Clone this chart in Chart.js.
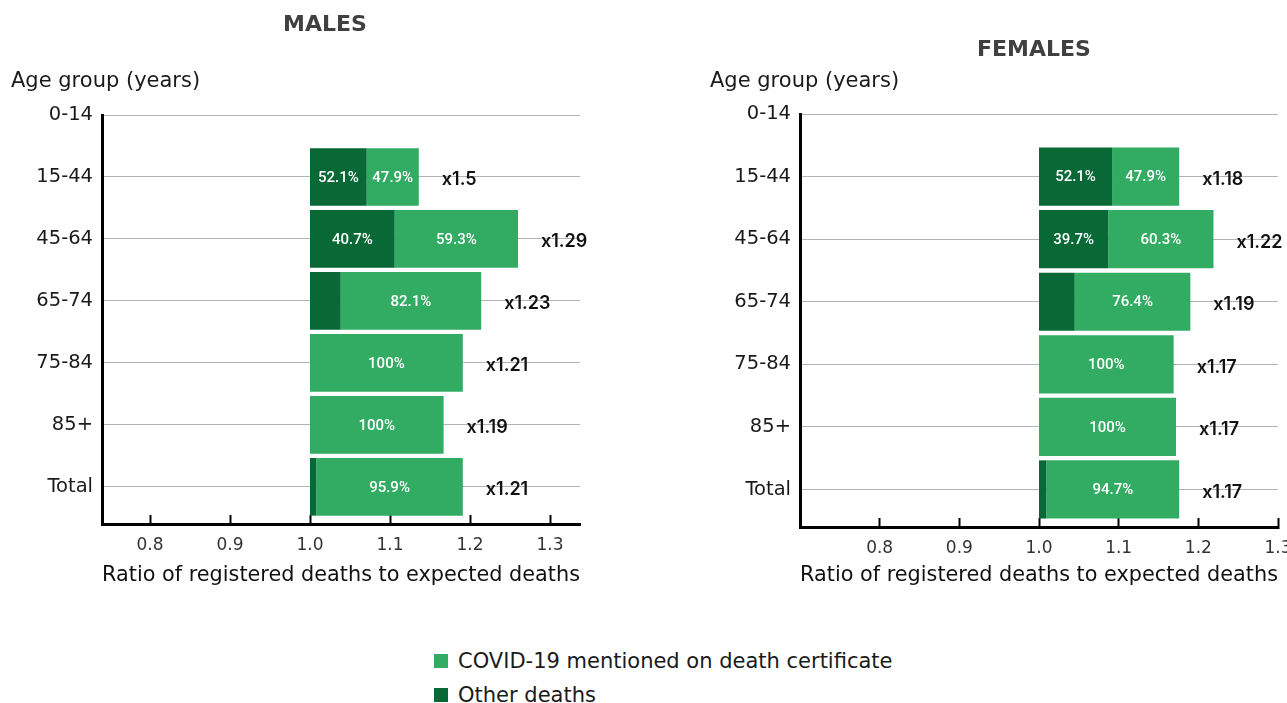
<!DOCTYPE html>
<html>
<head>
<meta charset="utf-8">
<script src="https://cdn.jsdelivr.net/npm/chart.js@4"></script>
<style>
  body { margin: 0; background: #fff; font-family: "DejaVu Sans", sans-serif; }
  .wrap { position: relative; width: 1287px; height: 703px; overflow: hidden; }
  #males { position: absolute; left: 0; top: 0; }
  #females { position: absolute; left: 690px; top: 0; }
  .legend { position: absolute; left: 434px; top: 650px; font-size: 21px; color: #1a1a1a; }
  .legend div { display: flex; align-items: center; height: 22px; margin-bottom: 12px; white-space: nowrap; }
  .legend .box { width: 14px; height: 14px; margin-right: 10px; }
</style>
</head>
<body>
<div class="wrap">
  <canvas id="males" width="600" height="610"></canvas>
  <canvas id="females" width="597" height="610"></canvas>
  <div class="legend" id="legend"></div>
</div>
<script>
const ageGroups = ['0-14', '15-44', '45-64', '65-74', '75-84', '85+', 'Total'];
const seriesNames = ['COVID-19 mentioned on death certificate', 'Other deaths'];

// ratio of registered to expected deaths (bar end), and share of excess with COVID mentioned
const malesRatio = [null, 1.136, 1.26, 1.214, 1.191, 1.167, 1.191];
const malesCovidShare = [null, 47.9, 59.3, 82.1, 100, 100, 95.9];
const malesOtherLabels = ['', '52.1%', '40.7%', '', '', '', ''];
const malesRatioLabels = ['', 'x1.5', 'x1.29', 'x1.23', 'x1.21', 'x1.19', 'x1.21'];

const femalesRatio = [null, 1.176, 1.219, 1.19, 1.169, 1.172, 1.176];
const femalesCovidShare = [null, 47.9, 60.3, 76.4, 100, 100, 94.7];
const femalesOtherLabels = ['', '52.1%', '39.7%', '', '', '', ''];
const femalesRatioLabels = ['', 'x1.18', 'x1.22', 'x1.19', 'x1.17', 'x1.17', 'x1.17'];

const covidColor = '#32ab63';
const otherColor = '#086937';

Chart.defaults.font.family = '"DejaVu Sans", sans-serif';
Chart.defaults.color = '#1a1a1a';

const otherEnd = (r, s) => 1 + (r - 1) * (1 - s / 100);

const barLabels = {
  id: 'barLabels',
  afterDatasetsDraw(chart, args, opts) {
    const { ctx } = chart;
    ctx.save();
    ctx.textBaseline = 'middle';
    chart.data.datasets.forEach((ds, di) => {
      chart.getDatasetMeta(di).data.forEach((bar, j) => {
        const text = ds.valueLabels[ds.data[j].y];
        if (!text) return;
        ctx.font = '500 15px Roboto';
        ctx.fillStyle = '#fff';
        ctx.textAlign = 'center';
        ctx.fillText(text, (bar.x + bar.base) / 2, bar.y + 1);
      });
    });
    const covid = chart.data.datasets[1];
    chart.getDatasetMeta(1).data.forEach((bar, j) => {
      ctx.font = '600 18px Inter';
      ctx.fillStyle = '#111';
      ctx.textAlign = 'left';
      ctx.fillText(opts.ratioLabels[covid.data[j].y], bar.x + 23, bar.y + 3);
    });
    ctx.restore();
  }
};

const headings = {
  id: 'headings',
  afterDraw(chart, args, opts) {
    const { ctx } = chart;
    ctx.save();
    ctx.textBaseline = 'middle';
    ctx.font = 'bold 22px "DejaVu Sans"';
    ctx.fillStyle = '#404040';
    ctx.textAlign = 'center';
    ctx.fillText(opts.title, opts.titleX, opts.titleY);
    ctx.font = '21px "DejaVu Sans"';
    ctx.fillStyle = '#1a1a1a';
    ctx.textAlign = 'left';
    ctx.fillText('Age group (years)', opts.axisLabelX, 82);
    ctx.restore();
  }
};

function makeChart(id, ratio, share, otherLabels, ratioLabels, xMin, xMax, layout) {
  const rows = ratio.map((r, i) => i).filter(i => ratio[i] !== null);
  return new Chart(document.getElementById(id), {
    type: 'bar',
    plugins: [barLabels, headings],
    data: {
      datasets: [
        {
          label: seriesNames[1],
          backgroundColor: otherColor,
          data: rows.map(i => ({ y: i, x: [1, otherEnd(ratio[i], share[i])] })),
          valueLabels: otherLabels
        },
        {
          label: seriesNames[0],
          backgroundColor: covidColor,
          data: rows.map(i => ({ y: i, x: [otherEnd(ratio[i], share[i]), ratio[i]] })),
          valueLabels: share.map(s => s === null ? '' : s + '%')
        }
      ]
    },
    options: {
      responsive: false,
      animation: false,
      indexAxis: 'y',
      grouped: false,
      barPercentage: 0.93,
      categoryPercentage: 1,
      layout: { padding: { top: layout.top, right: layout.right, left: 0, bottom: 0 } },
      plugins: {
        legend: { display: false },
        tooltip: { enabled: false },
        barLabels: { ratioLabels },
        headings: layout.headings
      },
      scales: {
        x: {
          type: 'linear',
          min: xMin,
          max: xMax,
          afterBuildTicks: s => { s.ticks = s.ticks.filter(t => t.value > s.min + 0.01); },
          afterFit: s => {
            s.height = layout.xHeight;
            s.paddingLeft = 0;
            s.paddingRight = 0;
          },
          ticks: {
            stepSize: 0.1,
            includeBounds: false,
            callback: v => v.toFixed(1),
            font: { size: 17 },
            color: '#333',
            padding: 20,
            maxRotation: 0
          },
          grid: { drawOnChartArea: false, drawTicks: true, tickLength: -9, tickColor: '#000', tickWidth: 2 },
          border: { color: '#000', width: 3 },
          title: {
            display: true,
            text: 'Ratio of registered deaths to expected deaths',
            font: { size: 21 },
            color: '#111',
            padding: { top: 0, bottom: 22 }
          }
        },
        y: {
          type: 'linear',
          reverse: true,
          offset: false,
          min: 0,
          max: 6.6,
          afterBuildTicks: s => { s.ticks = ageGroups.map((g, i) => ({ value: i })); },
          afterFit: s => {
            s.width = layout.yWidth;
            s.paddingTop = 0;
            s.paddingBottom = 0;
          },
          ticks: {
            autoSkip: false,
            callback: v => ageGroups[v],
            font: { size: 19.5 },
            color: '#1a1a1a',
            padding: 9
          },
          grid: { offset: false, color: '#b3b3b3', lineWidth: 1, drawTicks: false },
          border: { color: '#000', width: 3 }
        }
      }
    }
  });
}

makeChart('males', malesRatio, malesCovidShare, malesOtherLabels, malesRatioLabels, 0.74, 1.3375, {
  top: 115, right: 20, xHeight: 86, yWidth: 102,
  headings: { title: 'MALES', titleX: 325, titleY: 25, axisLabelX: 11 }
});
makeChart('females', femalesRatio, femalesCovidShare, femalesOtherLabels, femalesRatioLabels, 0.70, 1.30, {
  top: 114, right: 9, xHeight: 83, yWidth: 110,
  headings: { title: 'FEMALES', titleX: 344, titleY: 50, axisLabelX: 20 }
});

const legend = document.getElementById('legend');
[covidColor, otherColor].forEach((c, i) => {
  const row = document.createElement('div');
  const box = document.createElement('span');
  box.className = 'box';
  box.style.background = c;
  row.appendChild(box);
  row.appendChild(document.createTextNode(seriesNames[i]));
  legend.appendChild(row);
});
</script>
</body>
</html>
